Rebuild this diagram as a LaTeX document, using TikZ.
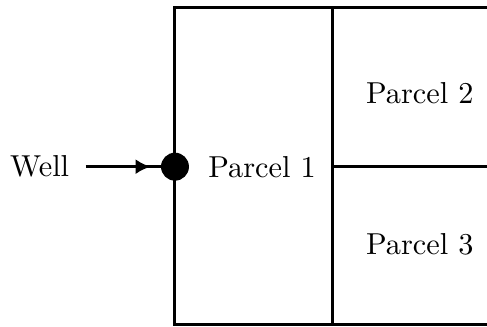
\documentclass[tikz,border=0pt]{standalone}
\usepackage{tikz}
\usetikzlibrary{arrows.meta,positioning,calc}

\begin{document}
\begin{tikzpicture}
    \useasboundingbox (0,0) rectangle (5.65,3.79);

    % Parcel boundaries
    \coordinate (tl) at (2.03,3.70);
    \coordinate (bl) at (2.03,0.025);
    \coordinate (tr) at (5.65,3.70);
    \coordinate (br) at (5.65,0.025);
    \coordinate (mt) at (3.86,3.70);
    \coordinate (mb) at (3.86,0.025);
    \coordinate (mm) at (3.86,1.856);
    \coordinate (mr) at (5.65,1.856);
    \draw[line width=1pt] (tr) -- (tl) -- (bl) -- (br);
    \draw[line width=1pt] (mt) -- (mb);
    \draw[line width=1pt] (mm) -- (mr);

    % Parcels
    \node (parcel1) at (3.04,1.856) {Parcel 1};
    \node (parcel2) at (4.87,2.71) {Parcel 2};
    \node (parcel3) at (4.87,0.95) {Parcel 3};

    % Well
    \node[draw, circle, fill=black, minimum size=0.31cm, inner sep=0pt] (well) at (2.03,1.856) {};
    \node (welllabel) at (0.46,1.856) {Well};
    \draw[line width=1pt, shorten <=2pt] (welllabel) -- (well);
    \draw[-{Latex[length=5pt,width=5pt]}, line width=1pt, shorten <=2pt, shorten >=0.12cm] (welllabel) -- (well);
\end{tikzpicture}
\end{document}
